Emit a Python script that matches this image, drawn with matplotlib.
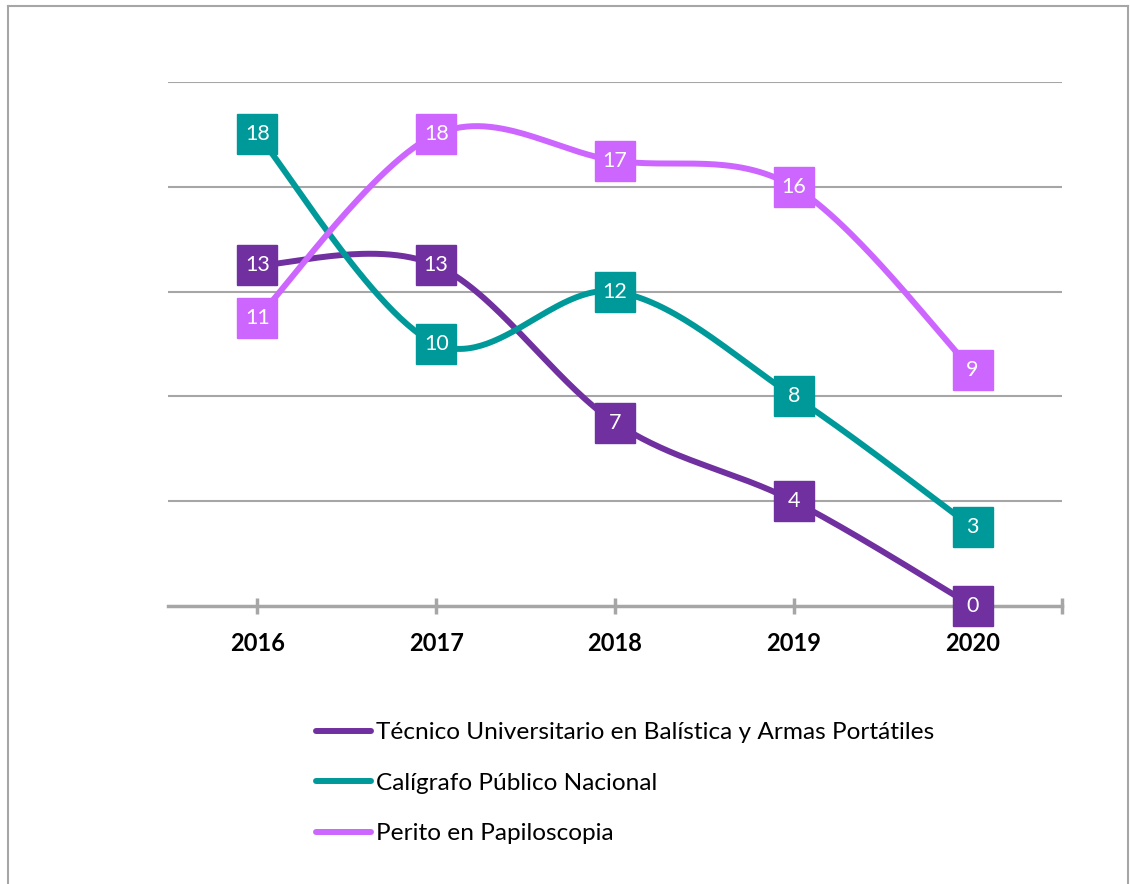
import numpy as np
import matplotlib
matplotlib.use("Agg")
import matplotlib.pyplot as plt
from matplotlib.lines import Line2D

years = ["2016", "2017", "2018", "2019", "2020"]
series_names = [
    "Técnico Universitario en Balística y Armas Portátiles",
    "Calígrafo Público Nacional",
    "Perito en Papiloscopia",
]
tecnico = [13, 13, 7, 4, 0]
caligrafo = [18, 10, 12, 8, 3]
perito = [11, 18, 17, 16, 9]
colors = ["#7030A0", "#009999", "#CC66FF"]

plt.rcParams['font.family'] = ['Lato', 'DejaVu Sans']

fig = plt.figure(figsize=(11.3, 8.84), dpi=100)
W, H = 1130, 884
ax = fig.add_axes([168 / W, 1 - 606 / H, (1062 - 168) / W, (606 - 82) / H])


def smooth(xs, ys, n=60):
    xs = np.asarray(xs, float)
    ys = np.asarray(ys, float)
    px = np.concatenate([[xs[0]], xs, [xs[-1]]])
    py = np.concatenate([[ys[0]], ys, [ys[-1]]])
    outx, outy = [], []
    t = np.linspace(0, 1, n)
    for i in range(len(xs) - 1):
        p0 = np.array([xs[i], ys[i]])
        p3 = np.array([xs[i + 1], ys[i + 1]])
        prev = np.array([px[i], py[i]])
        nxt = np.array([px[i + 3], py[i + 3]])
        c1 = p0 + (p3 - prev) / 6.0
        c2 = p3 - (nxt - p0) / 6.0
        b = ((1 - t) ** 3)[:, None] * p0 + (3 * (1 - t) ** 2 * t)[:, None] * c1 \
            + (3 * (1 - t) * t ** 2)[:, None] * c2 + (t ** 3)[:, None] * p3
        outx.extend(b[:, 0])
        outy.extend(b[:, 1])
    return np.array(outx), np.array(outy)


x = np.arange(len(years))
all_series = [tecnico, caligrafo, perito]
for k, (vals, col) in enumerate(zip(all_series, colors)):
    sx, sy = smooth(x, vals)
    ax.plot(sx, sy, color=col, lw=4.3, solid_capstyle='round', zorder=3 + k, clip_on=False)
for k, (vals, col) in enumerate(zip(all_series, colors)):
    ax.plot(x, vals, ls='none', marker='s', ms=28.5, color=col, mec=col, zorder=10 + k, clip_on=False)
    for xi, v in zip(x, vals):
        ax.text(xi, v, str(v), ha='center', va='center', color='white', fontsize=15.5,
                zorder=20 + k, clip_on=False)

ax.set_xlim(-0.5, 4.5)
ax.set_ylim(0, 20)
ax.set_yticks([4, 8, 12, 16, 20])
ax.yaxis.grid(True, color='#A6A6A6', lw=1.5)
ax.set_axisbelow(True)
ax.tick_params(axis='y', left=False, labelleft=False)
for s in ['left', 'right', 'top']:
    ax.spines[s].set_visible(False)
ax.spines['bottom'].set_color('#A6A6A6')
ax.spines['bottom'].set_linewidth(2.5)
ax.spines['bottom'].set_zorder(2)
ax.set_xticks(list(x) + [4.5])
ax.set_xticklabels(years + [""], fontsize=17, fontweight='bold')
ax.tick_params(axis='x', direction='inout', length=12, width=2.5, color='#A6A6A6', pad=13)

handles = [Line2D([0], [0], color=c, lw=4.3, solid_capstyle='round') for c in colors]
fig.legend(handles, series_names, loc='upper left', bbox_to_anchor=(304 / W, 1 - 710 / H),
           frameon=False, fontsize=17.6, handlelength=2.25, handletextpad=0.2,
           labelspacing=1.2, borderpad=0)

# outer border
fig.add_artist(Line2D([7.5 / W, 7.5 / W], [0, 1 - 6 / H], color='#A6A6A6', lw=1.5, transform=fig.transFigure))
fig.add_artist(Line2D([7.5 / W, 1128 / W], [1 - 6 / H, 1 - 6 / H], color='#A6A6A6', lw=1.5, transform=fig.transFigure))
fig.add_artist(Line2D([1128 / W, 1128 / W], [0, 1 - 6 / H], color='#A6A6A6', lw=1.5, transform=fig.transFigure))

fig.savefig("out.png", dpi=100)
